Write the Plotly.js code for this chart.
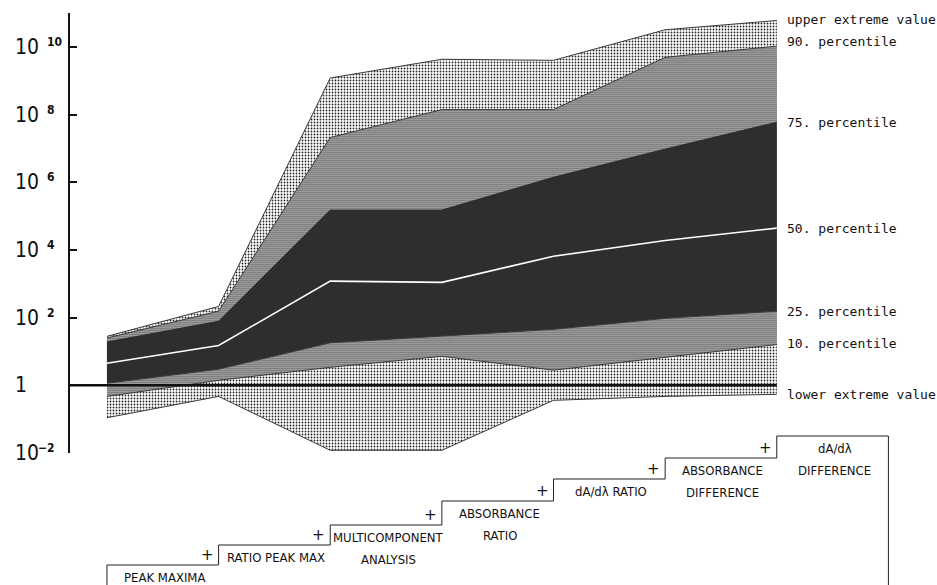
<!DOCTYPE html>
<html>
<head>
<meta charset="utf-8">
<script src="https://cdn.plot.ly/plotly-3.0.1.min.js"></script>
<style>
  html, body { margin: 0; padding: 0; background: #fff; }
  #chart { width: 937px; height: 585px; }
</style>
</head>
<body>
<div id="chart"></div>
<script>
// Evaluation methods, added one after another (each step adds one criterion)
const methods = [
  ["PEAK MAXIMA"],
  ["RATIO PEAK MAX"],
  ["MULTICOMPONENT", "ANALYSIS"],
  ["ABSORBANCE", "RATIO"],
  ["dA/dλ RATIO"],
  ["ABSORBANCE", "DIFFERENCE"],
  ["dA/dλ", "DIFFERENCE"]
];

// Distribution of the quality measure for each cumulative method set
const upperExtreme = [28, 214, 1.2e9, 4.3e9, 4.0e9, 3.2e10, 6.0e10];
const p90          = [25, 155, 2.1e7, 1.4e8, 1.4e8, 4.9e9, 1.05e10];
const p75          = [19, 78, 1.5e5, 1.5e5, 1.4e6, 9.5e6, 5.9e7];
const p50          = [4.5, 15, 1.2e3, 1.1e3, 6.5e3, 1.9e4, 4.4e4];
const p25          = [1.15, 3.0, 18, 28, 45, 95, 155];
const p10          = [0.47, 1.4, 3.4, 7.2, 2.8, 6.8, 16];
const lowerExtreme = [0.11, 0.47, 0.012, 0.012, 0.36, 0.47, 0.54];

// Y axis decades: mantissa and exponent of each label
const tickExps      = [-2, 0, 2, 4, 6, 8, 10];
const tickBases     = ["10", "1", "10", "10", "10", "10", "10"];
const tickExponents = ["−2", "", "2", "4", "6", "8", "10"];

// Names written at the right end of each boundary
const boundaryNames = ["upper extreme value", "90. percentile", "75. percentile",
                       "50. percentile", "25. percentile", "10. percentile",
                       "lower extreme value"];

// ---- layout constants ----
const W = 937, H = 585;
const M = { l: 70, r: 43, t: 13, b: 132 };
const XMIN = -0.331, XMAX = 7.05;
const plotH = H - M.t - M.b;
const stepTopPx = [565, 545, 525, 501, 479, 458, 436];   // tops of the staircase treads

const xs = methods.map((_, i) => i);
const last = xs.length - 1;
const px2py = py => (H - M.b - py) / plotH;               // pixel row -> paper y
const x2paper = x => (x - XMIN) / (XMAX - XMIN);          // data x -> paper x

const edge = { color: '#3a3a3a', width: 1 };
const monoFont = { family: 'DejaVu Sans Mono, Liberation Mono, monospace', size: 13, color: '#111' };
const narrowFont = { family: 'Liberation Sans Narrow, DejaVu Sans Condensed, Arial Narrow, sans-serif', size: 13, color: '#111' };
const tickFont = { family: 'Liberation Sans Narrow, DejaVu Sans Condensed, sans-serif', size: 21, color: '#111' };
const expFont = { family: 'DejaVu Sans Condensed, DejaVu Sans, sans-serif', size: 12, color: '#111', weight: 'bold' };

const traces = [
  { x: xs, y: lowerExtreme, mode: 'lines', line: edge, hoverinfo: 'skip' },
  { x: xs, y: upperExtreme, mode: 'lines', line: edge, fill: 'tonexty',
    fillcolor: '#ffffff',
    fillpattern: { shape: '.', size: 3, solidity: 0.27, fgcolor: '#222', bgcolor: '#ffffff' },
    hoverinfo: 'skip' },
  { x: xs, y: p10, mode: 'lines', line: edge, hoverinfo: 'skip' },
  { x: xs, y: p90, mode: 'lines', line: edge, fill: 'tonexty',
    fillcolor: '#ffffff',
    fillpattern: { shape: '.', size: 2, solidity: 0.6, fgcolor: '#222', bgcolor: '#ffffff' },
    hoverinfo: 'skip' },
  { x: xs, y: p25, mode: 'lines', line: edge, hoverinfo: 'skip' },
  { x: xs, y: p75, mode: 'lines', line: { color: '#2a2a2a', width: 1 }, fill: 'tonexty',
    fillcolor: '#2e2e2e', hoverinfo: 'skip' },
  // reference level y = 1
  { x: [XMIN, last], y: [1, 1], mode: 'lines', line: { color: '#111', width: 2.5 }, hoverinfo: 'skip' },
  // median
  { x: xs, y: p50, mode: 'lines', line: { color: '#ffffff', width: 1.6 }, hoverinfo: 'skip' }
];

const annotations = [];

// y axis labels, left aligned, exponent raised to the top of the mantissa
tickExps.forEach((e, i) => {
  annotations.push({
    xref: 'paper', yref: 'y', x: 0, y: e, xanchor: 'left', yanchor: 'middle',
    xshift: -57, text: tickBases[i], showarrow: false, font: tickFont
  });
  if (tickExponents[i]) {
    annotations.push({
      xref: 'paper', yref: 'y', x: 0, y: e, xanchor: 'left', yanchor: 'middle',
      xshift: e < 0 ? -34 : -25, yshift: 5, text: tickExponents[i], showarrow: false, font: expFont
    });
  }
});

// boundary names at the right end
const boundarySeries = [upperExtreme, p90, p75, p50, p25, p10, lowerExtreme];
const boundaryShift  = [1, 5, 0, 0, 0, 1, 0];
boundarySeries.forEach((s, i) => {
  annotations.push({
    xref: 'x', yref: 'y', x: last, y: Math.log10(s[last]),
    xanchor: 'left', yanchor: 'middle', xshift: 8, yshift: boundaryShift[i],
    text: boundaryNames[i], showarrow: false, font: monoFont
  });
});

// staircase of cumulative methods
const bottomY = px2py(H + 5);
let path = 'M' + x2paper(0) + ',' + bottomY;
stepTopPx.forEach((py, i) => {
  path += ' L' + x2paper(i) + ',' + px2py(py) + ' L' + x2paper(i + 1) + ',' + px2py(py);
});
path += ' L' + x2paper(methods.length) + ',' + bottomY;

const shapes = [{
  type: 'path', xref: 'paper', yref: 'paper', path: path,
  line: { color: '#222', width: 1 }, fillcolor: 'rgba(0,0,0,0)'
}];

methods.forEach((lines, i) => {
  lines.forEach((txt, j) => {
    annotations.push({
      xref: 'paper', yref: 'paper', x: x2paper(i + 0.5), y: px2py(stepTopPx[i] + 12 + 22 * j),
      xanchor: 'center', yanchor: 'middle', xshift: 2, text: txt, showarrow: false, font: narrowFont
    });
  });
  if (i > 0) {
    annotations.push({
      xref: 'paper', yref: 'paper', x: x2paper(i), y: px2py(stepTopPx[i - 1] - 10),
      xanchor: 'right', yanchor: 'middle', xshift: -3, text: '+', showarrow: false,
      font: { family: 'DejaVu Sans', size: 15, color: '#111' }
    });
  }
});

const layout = {
  width: W, height: H,
  margin: M,
  paper_bgcolor: '#ffffff', plot_bgcolor: '#ffffff',
  showlegend: false,
  xaxis: {
    range: [XMIN, XMAX], visible: false, fixedrange: true
  },
  yaxis: {
    type: 'log', range: [-2, 11],
    tickvals: tickExps.map(e => Math.pow(10, e)),
    showticklabels: false, ticks: 'inside', ticklen: 7, tickwidth: 2, tickcolor: '#111',
    showline: true, linecolor: '#111', linewidth: 2,
    showgrid: false, zeroline: false, fixedrange: true
  },
  annotations: annotations,
  shapes: shapes
};

Plotly.newPlot('chart', traces, layout, { displayModeBar: false, staticPlot: true });
</script>
</body>
</html>
